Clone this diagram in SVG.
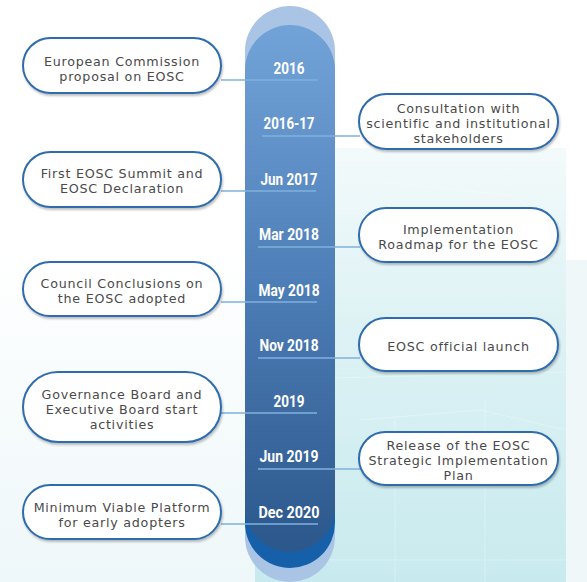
<svg xmlns="http://www.w3.org/2000/svg" width="587" height="582" viewBox="0 0 587 582">
<defs>
<linearGradient id="barG" x1="0" y1="0" x2="0" y2="1">
<stop offset="0" stop-color="#72a3d8"/>
<stop offset="0.5" stop-color="#4d7db6"/>
<stop offset="1" stop-color="#2b578b"/>
</linearGradient>
<linearGradient id="bgG" x1="0" y1="0" x2="0" y2="1">
<stop offset="0" stop-color="#f3fafb"/>
<stop offset="0.35" stop-color="#e0f3f5"/>
<stop offset="1" stop-color="#c8eaee"/>
</linearGradient>
<linearGradient id="leftG" x1="0" y1="0" x2="0" y2="1">
<stop offset="0" stop-color="#ffffff"/>
<stop offset="1" stop-color="#eef7f9"/>
</linearGradient>
<filter id="sh" x="-10%" y="-20%" width="120%" height="150%">
<feDropShadow dx="1" dy="2" stdDeviation="1.2" flood-color="#000" flood-opacity="0.25"/>
</filter>
<style>
.box{fill:#fff;stroke:#2f6cad;stroke-width:2;filter:url(#sh)}
.bt{font-family:"DejaVu Sans","Liberation Sans",sans-serif;font-size:12.7px;letter-spacing:0.75px;fill:#4a4a4a;text-anchor:middle}
.yr{font-family:Roboto,"Liberation Sans",sans-serif;font-weight:700;font-size:17px;fill:#fff;text-anchor:middle}
.ln{stroke:#7fb0de;stroke-width:1.6;fill:none}
</style>
</defs>
<rect width="587" height="582" fill="#fff"/>
<rect x="0" y="240" width="260" height="342" fill="url(#leftG)"/>
<rect x="255" y="148" width="311" height="434" fill="url(#bgG)"/>
<rect x="566" y="260" width="21" height="322" fill="#f0f7f9"/>
<g stroke="#ffffff" stroke-opacity="0.3" stroke-width="1" fill="none">
<path d="M360 420 L480 410 L566 430"/>
<path d="M385 182 L515 196 L566 240"/>
<path d="M395 420 L395 582"/>
<path d="M485 400 L485 582"/>
<path d="M255 380 L566 372"/>
<path d="M255 560 L566 560"/>
</g>
<g id="bar">
<rect x="245" y="6" width="90" height="576" rx="45" fill="#a9c4e5"/>
<rect x="245" y="440" width="90" height="128" rx="45" fill="#1660aa"/>
<rect x="245" y="25" width="90" height="527" rx="45" fill="url(#barG)"/>
</g>
<g id="connectors">
<line class="ln" x1="221" y1="80" x2="318" y2="80"/>
<line class="ln" x1="262" y1="136" x2="360" y2="136"/>
<line class="ln" x1="221" y1="191" x2="316" y2="191"/>
<line class="ln" x1="258" y1="247" x2="360" y2="247"/>
<line class="ln" x1="221" y1="302" x2="317" y2="302"/>
<line class="ln" x1="258" y1="358" x2="360" y2="358"/>
<line class="ln" x1="221" y1="413" x2="317" y2="413"/>
<line class="ln" x1="258" y1="469" x2="360" y2="469"/>
<line class="ln" x1="221" y1="524" x2="318" y2="524"/>
</g>
<g id="years">
<text class="yr" x="289" y="74" textLength="31" lengthAdjust="spacingAndGlyphs">2016</text>
<text class="yr" x="289" y="129" textLength="51" lengthAdjust="spacingAndGlyphs">2016-17</text>
<text class="yr" x="289" y="185" textLength="57" lengthAdjust="spacingAndGlyphs">Jun 2017</text>
<text class="yr" x="289" y="240" textLength="60" lengthAdjust="spacingAndGlyphs">Mar 2018</text>
<text class="yr" x="289" y="296" textLength="61" lengthAdjust="spacingAndGlyphs">May 2018</text>
<text class="yr" x="289" y="351" textLength="59" lengthAdjust="spacingAndGlyphs">Nov 2018</text>
<text class="yr" x="289" y="407" textLength="31" lengthAdjust="spacingAndGlyphs">2019</text>
<text class="yr" x="289" y="462" textLength="59" lengthAdjust="spacingAndGlyphs">Jun 2019</text>
<text class="yr" x="289" y="518" textLength="61" lengthAdjust="spacingAndGlyphs">Dec 2020</text>
</g>
<g id="n1"><rect class="box" x="23" y="38" width="198" height="55" rx="27.5"/>
<text class="bt" x="122" y="65.5"><tspan x="122">European Commission</tspan><tspan x="122" dy="15">proposal on EOSC</tspan></text></g>
<g id="n2"><rect class="box" x="359" y="94" width="199" height="55" rx="27.5"/>
<text class="bt" x="458.5" y="113"><tspan x="458.5">Consultation with</tspan><tspan x="458.5" dy="15">scientific and institutional</tspan><tspan x="458.5" dy="15">stakeholders</tspan></text></g>
<g id="n3"><rect class="box" x="23" y="152" width="198" height="55" rx="27.5"/>
<text class="bt" x="122" y="178"><tspan x="122">First EOSC Summit and</tspan><tspan x="122" dy="15">EOSC Declaration</tspan></text></g>
<g id="n4"><rect class="box" x="359" y="208" width="199" height="54" rx="27"/>
<text class="bt" x="458.5" y="234"><tspan x="458.5">Implementation</tspan><tspan x="458.5" dy="15">Roadmap for the EOSC</tspan></text></g>
<g id="n5"><rect class="box" x="23" y="262" width="198" height="54" rx="27"/>
<text class="bt" x="122" y="288"><tspan x="122">Council Conclusions on</tspan><tspan x="122" dy="15">the EOSC adopted</tspan></text></g>
<g id="n6"><rect class="box" x="359" y="318" width="199" height="53" rx="26.5"/>
<text class="bt" x="458.5" y="351">EOSC official launch</text></g>
<g id="n7"><rect class="box" x="23" y="372" width="198" height="70" rx="35"/>
<text class="bt" x="122" y="398.5"><tspan x="122">Governance Board and</tspan><tspan x="122" dy="15">Executive Board start</tspan><tspan x="122" dy="15">activities</tspan></text></g>
<g id="n8"><rect class="box" x="359" y="432" width="199" height="53" rx="26.5"/>
<text class="bt" x="458.5" y="449.5"><tspan x="458.5">Release of the EOSC</tspan><tspan x="458.5" dy="15">Strategic Implementation</tspan><tspan x="458.5" dy="15">Plan</tspan></text></g>
<g id="n9"><rect class="box" x="23" y="485" width="198" height="54" rx="27"/>
<text class="bt" x="122" y="512"><tspan x="122">Minimum Viable Platform</tspan><tspan x="122" dy="15">for early adopters</tspan></text></g>
</svg>
